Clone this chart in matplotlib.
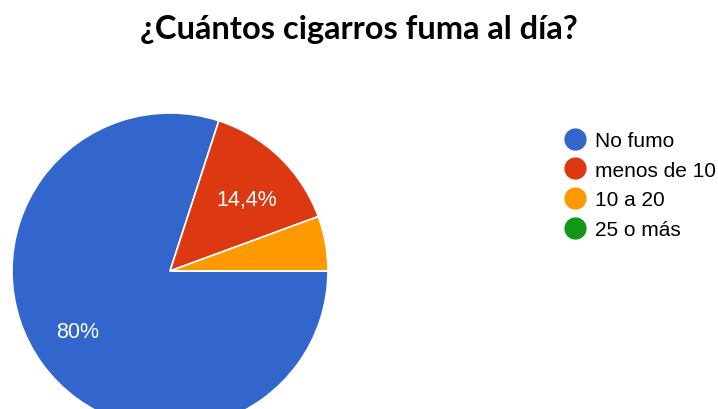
import matplotlib
matplotlib.use("Agg")
import matplotlib.pyplot as plt
from matplotlib.lines import Line2D
import numpy as np

title = "¿Cuántos cigarros fuma al día?"
categories = ["No fumo", "menos de 10", "10 a 20", "25 o más"]
values = [80.0, 14.4, 5.6, 0.0]
labels_txt = ["80%", "14,4%", "", ""]
colors = ["#3366CC", "#DC3912", "#FF9900", "#109618"]

W, H = 718, 410
fig = plt.figure(figsize=(W / 100, H / 100), dpi=100)
ax = fig.add_axes([0, 0, 1, 1])

cx, cy, R = 170, 138, 158
wedges, _ = ax.pie(values, colors=colors, startangle=0, counterclock=False,
                   center=(cx, cy), radius=R,
                   wedgeprops=dict(edgecolor="white", linewidth=1.2))
ax.set_xlim(0, W)
ax.set_ylim(0, H)
ax.set_aspect("equal")
ax.axis("off")

# slice labels (radius fraction, angle in degrees)
label_pos = {1: (0.66, 43.0), 0: (0.70, 213.0)}
for i, w in enumerate(wedges):
    if not labels_txt[i]:
        continue
    frac, ang = label_pos.get(i, (0.65, None))
    if ang is None:
        ang = (w.theta1 + w.theta2) / 2
    a = np.deg2rad(ang)
    ax.text(cx + frac * R * np.cos(a), cy + frac * R * np.sin(a), labels_txt[i],
            color="white", fontsize=15.5, ha="center", va="center",
            family="Liberation Sans")

fig.text(0.5, 1 - 30 / H, title, ha="center", va="center",
         fontsize=23.5, fontweight="bold", family="Lato")

handles = [Line2D([], [], marker="o", linestyle="none", markersize=15,
                  markerfacecolor=c, markeredgecolor=c) for c in colors]
fig.legend(handles, categories, loc="upper left",
           bbox_to_anchor=(562 / W, 1 - 132 / H), frameon=False,
           prop=dict(family="Liberation Sans", size=15),
           labelspacing=0.51, handletextpad=0.4, handlelength=1.2,
           borderaxespad=0, borderpad=0)

fig.savefig("out.png", dpi=100)
